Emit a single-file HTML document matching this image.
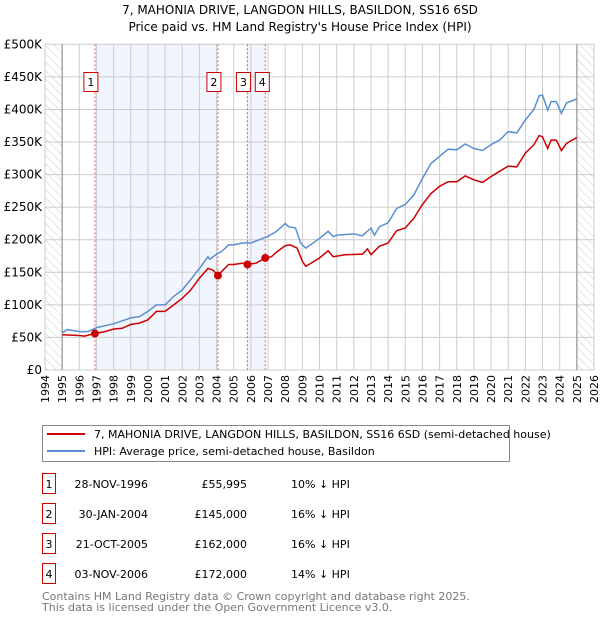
<!DOCTYPE html>
<html><head><meta charset="utf-8"><style>
body{margin:0;background:#fff;font-family:"DejaVu Sans","Liberation Sans",sans-serif;}
svg text{font-family:"DejaVu Sans","Liberation Sans",sans-serif;}
</style></head><body>
<svg id="c" width="600" height="620" xmlns="http://www.w3.org/2000/svg">
<defs><pattern id="hatch" width="6" height="6" patternUnits="userSpaceOnUse" patternTransform="rotate(-45)"><line x1="0" y1="0" x2="0" y2="6" stroke="#ccc" stroke-width="1"/></pattern></defs>
<text x="300" y="14" text-anchor="middle" font-size="12">7, MAHONIA DRIVE, LANGDON HILLS, BASILDON, SS16 6SD</text>
<text x="300" y="31" text-anchor="middle" font-size="12">Price paid vs. HM Land Registry's House Price Index (HPI)</text>
<g id="plot"></g>
<g>
<rect x="42.5" y="425.5" width="467" height="36" fill="#fff" stroke="#888"/>
<line x1="47" y1="434" x2="85" y2="434" stroke="#cc0000" stroke-width="2"/>
<text x="94" y="438" font-size="11">7, MAHONIA DRIVE, LANGDON HILLS, BASILDON, SS16 6SD (semi-detached house)</text>
<line x1="47" y1="451" x2="85" y2="451" stroke="#5b8fd0" stroke-width="2"/>
<text x="94" y="455" font-size="11">HPI: Average price, semi-detached house, Basildon</text>
</g>
<g id="table" font-size="11"></g>
<text x="42" y="600" font-size="11" fill="#777">Contains HM Land Registry data © Crown copyright and database right 2025.</text>
<text x="42" y="611" font-size="11" fill="#777">This data is licensed under the Open Government Licence v3.0.</text>
</svg>
<script>
const hpiYears=[1995,1995.3,1996,1996.5,1997,1998,1999,1999.5,2000,2000.5,2001,2001.5,2002,2002.5,2003,2003.5,2003.6,2004,2004.3,2004.7,2005,2005.5,2006,2006.5,2007,2007.5,2007.8,2008,2008.2,2008.6,2008.9,2009,2009.2,2010,2010.5,2010.8,2011,2012,2012.5,2013,2013.2,2013.5,2014,2014.5,2015,2015.5,2016,2016.5,2017,2017.5,2018,2018.5,2019,2019.5,2020,2020.5,2021,2021.5,2022,2022.5,2022.8,2023,2023.3,2023.5,2023.8,2024.1,2024.4,2025];
const hpiValues=[57,62,59,59,65,71,80,82,90,100,100,113,123,139,156,174,170,178,182,192,192,195,195,200,205,213,220,225,220,218,195,192,187,202,213,205,207,209,206,218,207,220,226,248,254,269,294,317,328,339,338,347,340,337,346,353,366,364,384,400,421,422,399,412,412,394,410,416];
const priceYears=[1995,1996,1996.3,1996.9,1997.5,1998,1998.5,1999,1999.5,2000,2000.5,2001,2001.5,2002,2002.5,2003,2003.5,2003.8,2004.08,2004.4,2004.7,2005,2005.5,2005.8,2006.3,2006.84,2007.2,2007.5,2008,2008.3,2008.7,2009,2009.2,2010,2010.5,2010.8,2011.5,2012.5,2012.8,2013,2013.5,2014,2014.5,2015,2015.5,2016,2016.5,2017,2017.5,2018,2018.5,2019,2019.5,2020,2020.5,2021,2021.5,2022,2022.5,2022.8,2023,2023.3,2023.5,2023.8,2024.1,2024.4,2025];
const priceValues=[54,53,52,56,59,63,64,70,72,77,90,90,100,110,123,141,156,153,145,154,162,162,164,162,164,172,174,181,191,192,187,167,159,172,183,174,177,178,186,177,190,195,214,218,233,254,271,282,289,289,298,292,288,297,305,313,312,333,346,360,358,340,353,353,337,348,357];
const saleIds=["1","2","3","4"];
const saleYears=[1996.91,2004.08,2005.8,2006.84];
const saleValues=[55.995,145,162,172];
const saleDates=["28-NOV-1996","30-JAN-2004","21-OCT-2005","03-NOV-2006"];
const salePrices=["£55,995","£145,000","£162,000","£172,000"];
const salePcts=["10% ↓ HPI","16% ↓ HPI","16% ↓ HPI","14% ↓ HPI"];
const yTicks=[0,50,100,150,200,250,300,350,400,450,500];
const yTickLabels=["£0","£50K","£100K","£150K","£200K","£250K","£300K","£350K","£400K","£450K","£500K"];

const NS="http://www.w3.org/2000/svg";
const X0=45,X1=594,Y0=370,Y1=44.3,YMIN=1994,YMAX=2026;
const xs=y=>X0+(y-YMIN)/(YMAX-YMIN)*(X1-X0);
const ys=v=>Y0-v/500*(Y0-Y1);
const plot=document.getElementById('plot');
function mk(tag,attrs,parent){const e=document.createElementNS(NS,tag);for(const k in attrs)e.setAttribute(k,attrs[k]);(parent||plot).appendChild(e);return e;}

// shaded periods
const shades=[[0,1],[2,3]];
shades.forEach(([a,b],i)=>{
 const r=mk('rect',{x:xs(saleYears[a]),y:Y1,width:xs(saleYears[b])-xs(saleYears[a]),height:Y0-Y1,fill:'#eef3fc',opacity:0.8});
 
 
});
// hatch
let h1=mk('rect',{x:X0,y:Y1,width:xs(1995)-X0,height:Y0-Y1,fill:'url(#hatch)'});


let h2=mk('rect',{x:xs(2025),y:Y1,width:X1-xs(2025),height:Y0-Y1,fill:'url(#hatch)'});


// grid
for(let y=YMIN;y<=YMAX;y++){
 const g=mk('line',{x1:xs(y),x2:xs(y),y1:Y1,y2:Y0,stroke:'#ccc','stroke-width':1});
 
 
 const t=mk('text',{x:0,y:0,'font-size':11,'text-anchor':'end',transform:`translate(${xs(y)+4},${Y0+5}) rotate(-90)`});
 t.textContent=y;
 
 
}
yTicks.forEach((v,i)=>{
 const g=mk('line',{x1:X0,x2:X1,y1:ys(v),y2:ys(v),stroke:'#ccc','stroke-width':1});
 
 
 const t=mk('text',{x:X0-3,y:ys(v)+4,'font-size':12,'text-anchor':'end'});
 t.textContent=yTickLabels[i];
 
 
});
let a1=mk('line',{x1:xs(1995),x2:xs(1995),y1:Y1,y2:Y0,stroke:'#888','stroke-width':1});


let a2=mk('line',{x1:xs(2025),x2:xs(2025),y1:Y1,y2:Y0,stroke:'#888','stroke-width':1});


// sale vlines and labels
saleYears.forEach((y,i)=>{
 const l=mk('line',{x1:xs(y),x2:xs(y),y1:Y1,y2:Y0,stroke:'#e06060','stroke-width':1,'stroke-dasharray':'2,2'});
 
 
});
// series
const pts=(xa,va)=>xa.map((x,i)=>xs(x).toFixed(1)+','+ys(va[i]).toFixed(1)).join(' ');
const hp=mk('polyline',{points:pts(hpiYears,hpiValues),fill:'none',stroke:'#5b8fd0','stroke-width':1.5});


const pp=mk('polyline',{points:pts(priceYears,priceValues),fill:'none',stroke:'#cc0000','stroke-width':1.5});


saleYears.forEach((y,i)=>{
 const c=mk('circle',{cx:xs(y),cy:ys(saleValues[i]),r:4,fill:'#cc0000'});
 
 
 const bx=xs(y)-(i===3?5:i===0?4:4)-14+(i===3?10:0)-(i===0?0:0);
 const cx=i===3?xs(y)-3:xs(y)-4;
 const g=mk('g',{});
 
 
 mk('rect',{x:cx-7,y:72.5,width:14,height:19,fill:'#fff',stroke:'#cc0000'},g);
 const t=mk('text',{x:cx,y:86,'font-size':11,'text-anchor':'middle'},g);
 t.textContent=saleIds[i];
});
// table
const tb=document.getElementById('table');
saleIds.forEach((id,i)=>{
 const cy=484+i*30;
 const g=mk('g',{},tb);
 
 
 mk('rect',{x:42.5,y:cy-10.5,width:13,height:20,fill:'#fff',stroke:'#cc0000'},g);
 let t=mk('text',{x:49,y:cy+4,'text-anchor':'middle'},g);t.textContent=id;
 t=mk('text',{x:148,y:cy+4,'text-anchor':'end'},g);t.textContent=saleDates[i];
 t=mk('text',{x:247,y:cy+4,'text-anchor':'end'},g);t.textContent=salePrices[i];
 t=mk('text',{x:291,y:cy+4},g);t.textContent=salePcts[i];
});
</script>
</body></html>
